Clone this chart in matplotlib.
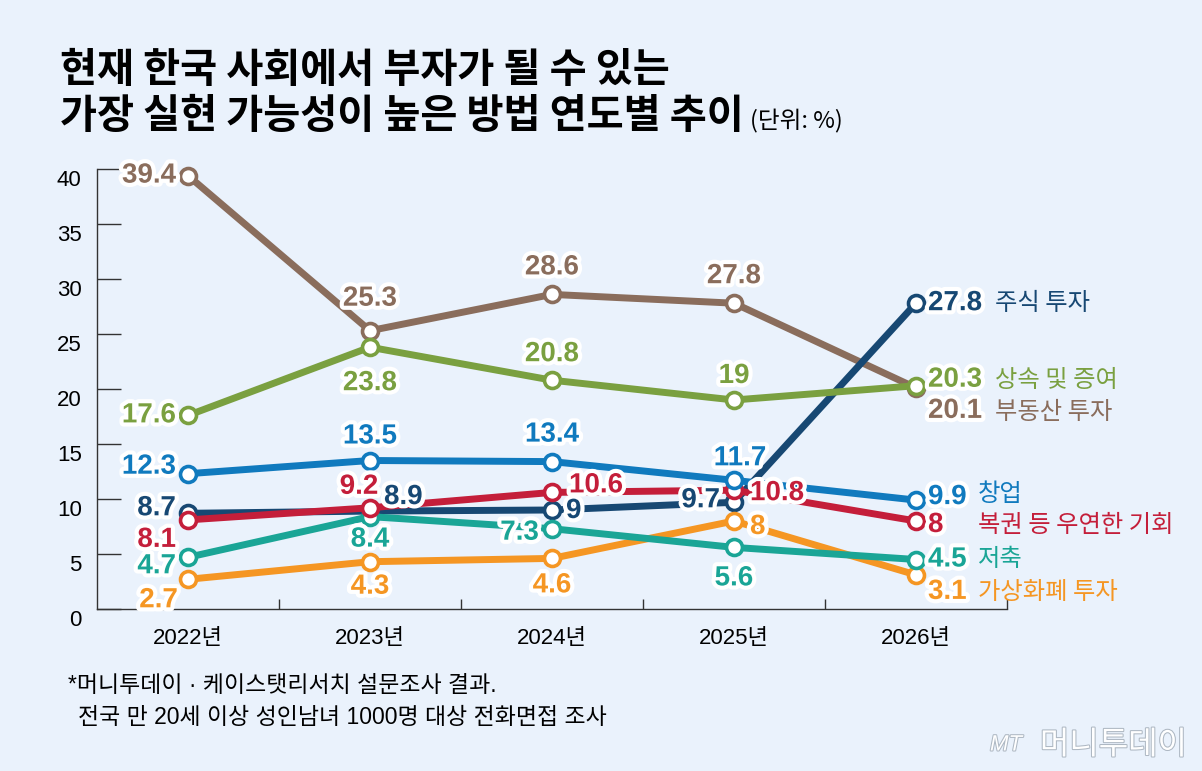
import matplotlib
matplotlib.use('Agg')
import matplotlib.pyplot as plt
import matplotlib.patheffects as pe
from matplotlib.transforms import ScaledTranslation
import numpy as np

years = ['2022년', '2023년', '2024년', '2025년', '2026년']
series_names = ['부동산 투자', '주식 투자', '상속 및 증여', '가상화폐 투자', '저축', '복권 등 우연한 기회', '창업']
real_estate = [39.4, 25.3, 28.6, 27.8, 20.1]
stocks = [8.7, 8.9, 9, 9.7, 27.8]
inheritance = [17.6, 23.8, 20.8, 19, 20.3]
crypto = [2.7, 4.3, 4.6, 8, 3.1]
savings = [4.7, 8.4, 7.3, 5.6, 4.5]
lottery = [8.1, 9.2, 10.6, 10.8, 8]
startup = [12.3, 13.5, 13.4, 11.7, 9.9]
values = [real_estate, stocks, inheritance, crypto, savings, lottery, startup]
yticks = [0, 5, 10, 15, 20, 25, 30, 35, 40]

colors = ['#8A6D5C', '#174873', '#7AA040', '#F59623', '#1AA596', '#C41E3A', '#107ABE']

# label offsets in pixels from each point: (dx, dy, ha)
label_pos = [
    [(-12, 0, 'right'), (0, 32, 'center'), (0, 27, 'center'), (0, 27, 'center'), (12, -23, 'left')],
    [(-12, 5, 'right'), (14, 14, 'left'), (14, -1, 'left'), (-14, 2, 'right'), (12, 0, 'left')],
    [(-12, 0, 'right'), (0, -36, 'center'), (0, 26, 'center'), (0, 24, 'center'), (12, 6, 'left')],
    [(-10, -21, 'right'), (0, -25, 'center'), (0, -27, 'center'), (16, -6, 'left'), (12, -17, 'left')],
    [(-12, -9, 'right'), (0, -23, 'center'), (-13, -4, 'right'), (0, -31, 'center'), (12, 0, 'left')],
    [(-12, -20, 'right'), (-11, 21, 'center'), (17, 7, 'left'), (16, -3, 'left'), (12, -4, 'left')],
    [(-12, 7, 'right'), (0, 24, 'center'), (0, 27, 'center'), (6, 22, 'center'), (12, 3, 'left')],
]
# series name offsets from the 2026 point, pixels
name_pos = [(79, -24), (79, 0), (79, 6), (62, -17), (62, 0), (62, -4), (62, 6)]

bg = '#EAF2FC'
num_font = ['Liberation Sans', 'Noto Sans CJK KR']
kr_font = ['Noto Sans CJK KR', 'Liberation Sans']

W, H = 1202, 771
fig = plt.figure(figsize=(W / 100, H / 100), dpi=100, facecolor=bg)
ax = fig.add_axes([97 / W, 1 - 609 / H, (1007 - 97) / W, (609 - 169) / H])
ax.set_facecolor(bg)

x = np.arange(len(years))
for i, (name, vals, c) in enumerate(zip(series_names, values, colors)):
    ax.plot(x, vals, color=c, lw=5, marker='o', ms=11.5, mfc='white', mec=c,
            mew=2.6, clip_on=False, zorder=3 + i * 0.1)

for i, (vals, c) in enumerate(zip(values, colors)):
    for j, v in enumerate(vals):
        dx, dy, ha = label_pos[i][j]
        ax.annotate(f'{v:g}', (x[j], v), xytext=(dx, dy), textcoords='offset pixels',
                    ha=ha, va='center', fontsize=20, fontweight='bold', color=c,
                    family=num_font, zorder=10, annotation_clip=False,
                    path_effects=[pe.withStroke(linewidth=6, foreground='white')])
    dx, dy = name_pos[i]
    ax.annotate(series_names[i], (x[-1], vals[-1]), xytext=(dx, dy), textcoords='offset pixels',
                ha='left', va='center', fontsize=17.5, fontweight='medium', color=c,
                family=kr_font, zorder=10, annotation_clip=False)

ax.set_xlim(-0.5, 4.5)
ax.set_ylim(0, 40)
for s in ['top', 'right']:
    ax.spines[s].set_visible(False)
for s in ['left', 'bottom']:
    ax.spines[s].set_color('#333333')
    ax.spines[s].set_linewidth(1)

ax.set_yticks(yticks)
ax.set_yticklabels([str(t) for t in yticks], family=num_font, fontsize=16)
ax.tick_params(axis='y', direction='in', length=17, width=1, color='#333333', pad=11)
for lab in ax.get_yticklabels():
    lab.set_transform(lab.get_transform() + ScaledTranslation(0, -0.09, fig.dpi_scale_trans))

ax.set_xticks(x)
ax.set_xticklabels(years, family=num_font, fontsize=16)
ax.tick_params(axis='x', length=0, pad=14)
ax.set_xticks(x + 0.5, minor=True)
ax.tick_params(axis='x', which='minor', direction='in', length=7, width=1, color='#333333')

# title
fig.text(60 / W, 1 - 70 / H, '현재 한국 사회에서 부자가 될 수 있는', fontsize=29,
         fontweight='bold', family=kr_font, va='center', ha='left')
fig.text(60 / W, 1 - 117 / H, '가장 실현 가능성이 높은 방법 연도별 추이', fontsize=29,
         fontweight='bold', family=kr_font, va='center', ha='left')
fig.text(750 / W, 1 - 121 / H, '(단위: %)', fontsize=17, family=kr_font, va='center', ha='left')

# footnote
fig.text(68 / W, 1 - 686 / H, '*머니투데이 · 케이스탯리서치 설문조사 결과.', fontsize=16.5,
         family=num_font, va='center', ha='left')
fig.text(78 / W, 1 - 718 / H, '전국 만 20세 이상 성인남녀 1000명 대상 전화면접 조사', fontsize=16.5,
         family=num_font, va='center', ha='left')

# watermark
fig.text(990 / W, 1 - 745 / H, 'MT', fontsize=16, style='italic', family=num_font,
         color='white', va='center', ha='left',
         path_effects=[pe.withStroke(linewidth=1.5, foreground='#AEB8C3')])
fig.text(1040 / W, 1 - 745 / H, '머니투데이', fontsize=23, family=kr_font, fontweight='light',
         color='white', va='center', ha='left',
         path_effects=[pe.withStroke(linewidth=1.5, foreground='#AEB8C3')])

fig.savefig('out.png', dpi=100, facecolor=bg)
